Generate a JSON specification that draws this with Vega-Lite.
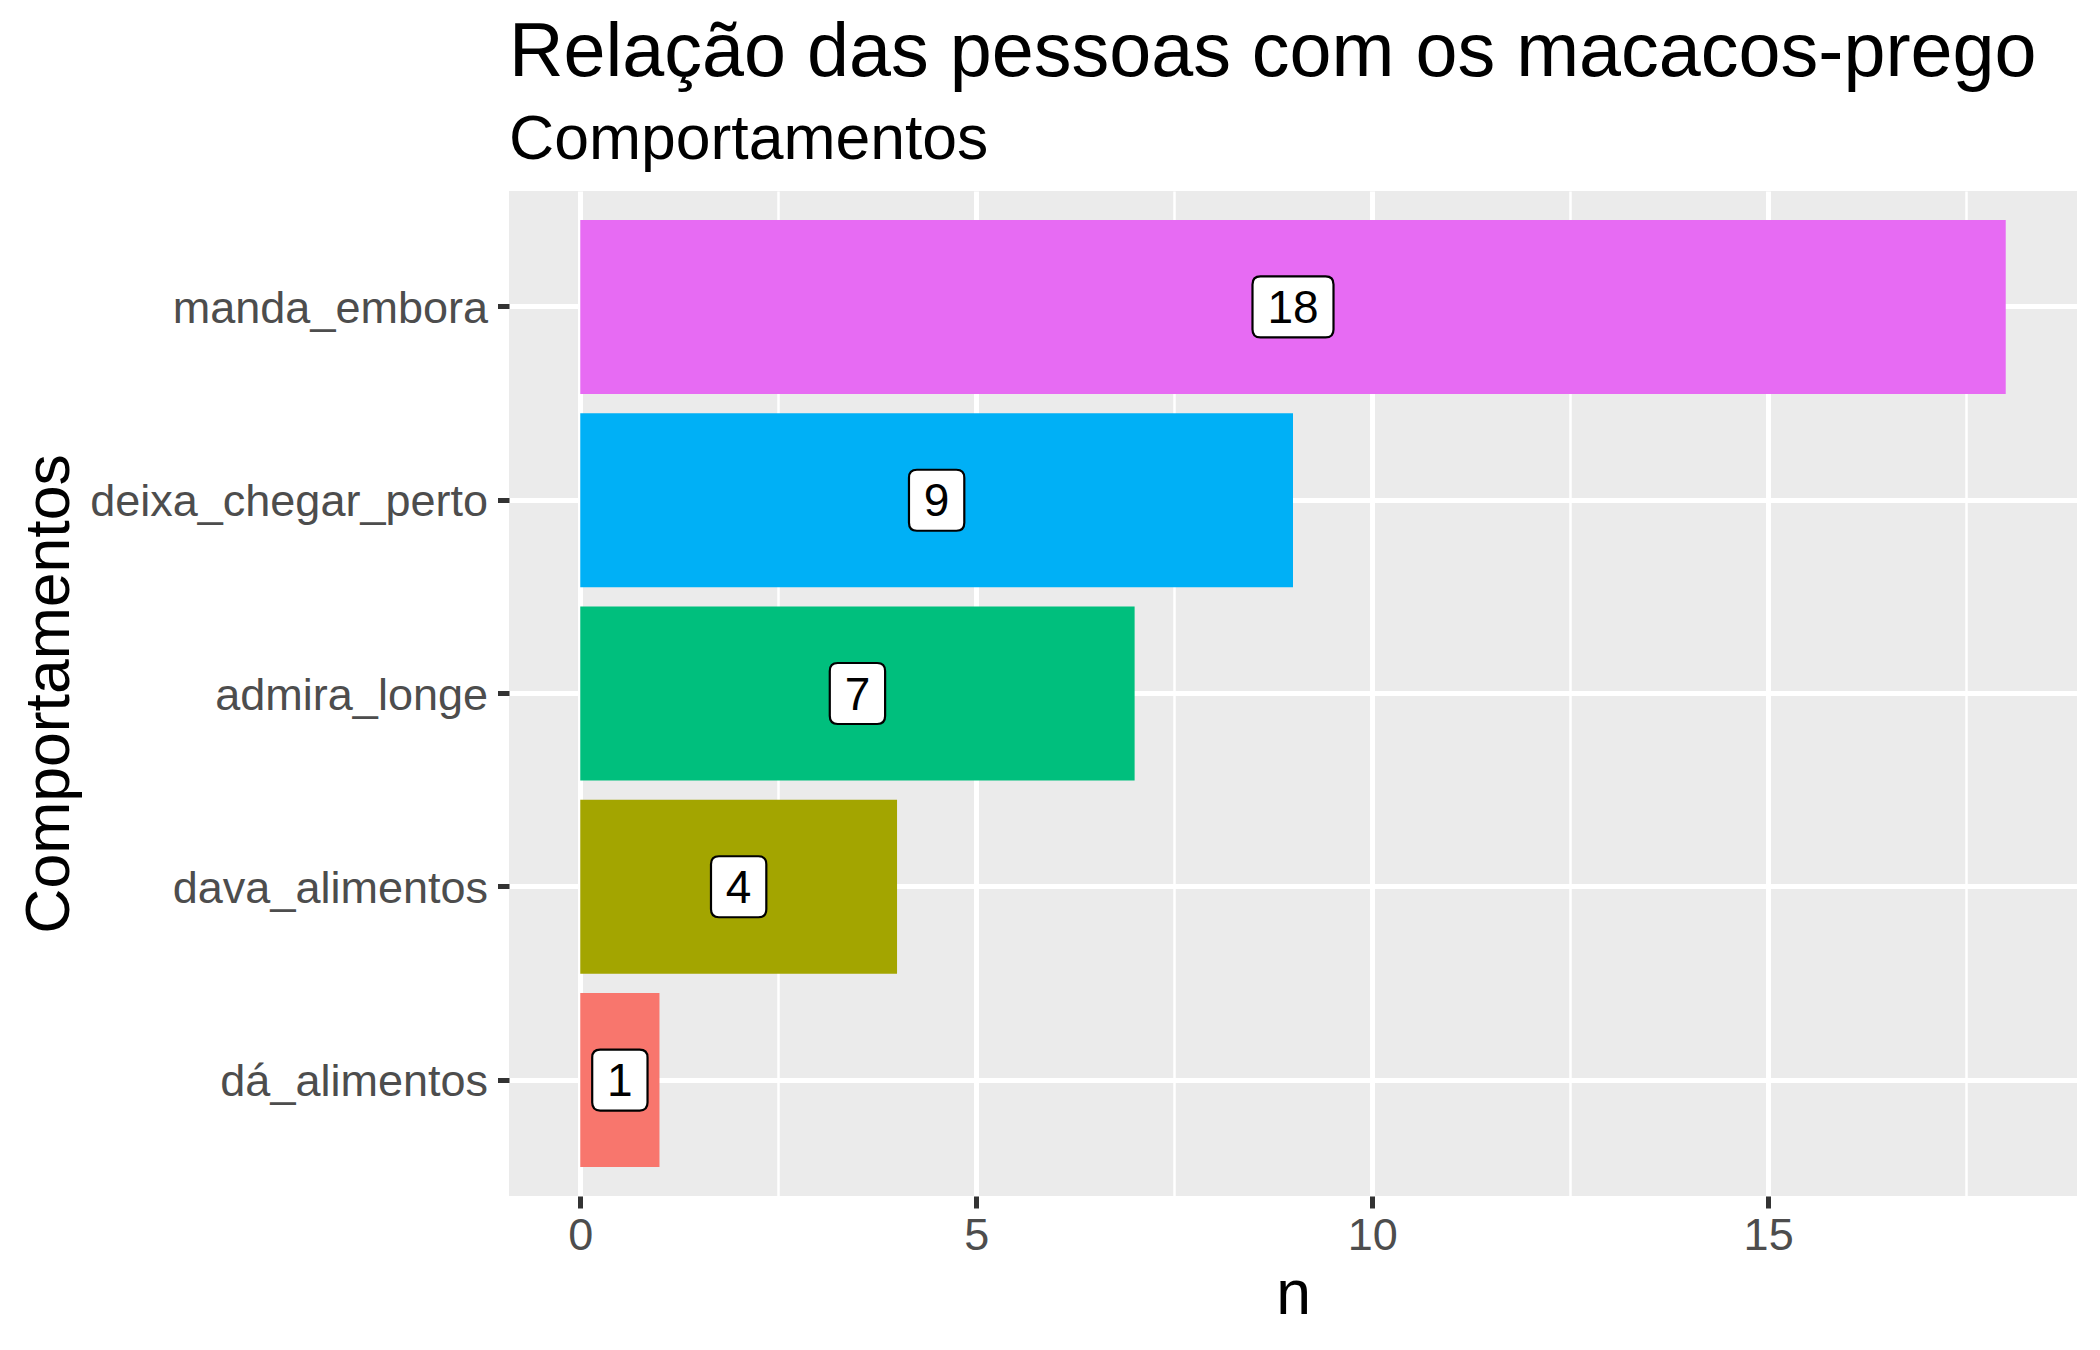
{
  "$schema": "https://vega.github.io/schema/vega-lite/v6.json",
  "autosize": {"type": "none"},
  "padding": {"left": 509, "top": 191, "right": 23, "bottom": 153},
  "width": 1568,
  "height": 1005,
  "background": "white",
  "config": {
    "font": "Liberation Sans",
    "view": {"fill": "#EBEBEB", "stroke": null},
    "axis": {"domain": false}
  },
  "title": {
    "text": "Relação das pessoas com os macacos-prego",
    "subtitle": "Comportamentos",
    "anchor": "start",
    "frame": "group",
    "font": "Liberation Sans",
    "fontSize": 75.5,
    "fontWeight": "normal",
    "color": "#000000",
    "subtitleFont": "Liberation Sans",
    "subtitleFontSize": 62.5,
    "subtitleColor": "#000000",
    "subtitlePadding": 18,
    "offset": 20,
    "limit": 0
  },
  "data": {
    "values": [
      {"comportamento": "dá_alimentos", "n": 1},
      {"comportamento": "dava_alimentos", "n": 4},
      {"comportamento": "admira_longe", "n": 7},
      {"comportamento": "deixa_chegar_perto", "n": 9},
      {"comportamento": "manda_embora", "n": 18}
    ]
  },
  "transform": [{"calculate": "datum.n / 2", "as": "mid"}],
  "encoding": {
    "y": {
      "field": "comportamento",
      "type": "nominal",
      "sort": ["manda_embora", "deixa_chegar_perto", "admira_longe", "dava_alimentos", "dá_alimentos"],
      "scale": {"paddingInner": 0.1, "paddingOuter": 0.15},
      "axis": {
        "title": "Comportamentos",
        "titleFont": "Liberation Sans",
        "titleFontSize": 62.5,
        "titleFontWeight": "normal",
        "titleColor": "#000000",
        "titleX": -441,
        "titleY": 502.5,
        "titleAngle": 270,
        "titleAlign": "center",
        "titleBaseline": "alphabetic",
        "titleLimit": 0,
        "labelFont": "Liberation Sans",
        "labelFontSize": 45,
        "labelColor": "#4D4D4D",
        "labelPadding": 10,
        "labelLimit": 0,
        "labelBaseline": "middle",
        "labelOffset": 2,
        "tickSize": 11.5,
        "tickWidth": 5,
        "tickColor": "#333333",
        "bandPosition": 0.5,
        "grid": true,
        "gridColor": "#FFFFFF",
        "gridWidth": 5
      }
    }
  },
  "layer": [
    {
      "mark": {"type": "bar"},
      "encoding": {
        "x": {
          "field": "n",
          "type": "quantitative",
          "scale": {"domain": [-0.9, 18.9], "nice": false, "zero": false},
          "axis": {
            "title": "n",
            "values": [0, 5, 10, 15],
            "titleFont": "Liberation Sans",
            "titleFontSize": 62.5,
            "titleFontWeight": "normal",
            "titleColor": "#000000",
            "titlePadding": 6,
            "labelFont": "Liberation Sans",
            "labelFontSize": 45,
            "labelColor": "#4D4D4D",
            "labelPadding": 5.5,
            "tickSize": 12,
            "tickWidth": 5,
            "tickColor": "#333333",
            "grid": true,
            "gridColor": "#FFFFFF",
            "gridWidth": 5
          }
        },
        "x2": {"datum": 0},
        "color": {
          "field": "comportamento",
          "type": "nominal",
          "scale": {
            "domain": ["dá_alimentos", "dava_alimentos", "admira_longe", "deixa_chegar_perto", "manda_embora"],
            "range": ["#F8766D", "#A3A500", "#00BF7D", "#00B0F6", "#E76BF3"]
          },
          "legend": null
        }
      }
    },
    {
      "transform": [{"filter": "datum.n >= 10"}],
      "mark": {
        "type": "point",
        "shape": "M -1.068 -1 L 1.068 -1 Q 1.328 -1 1.328 -0.74 L 1.328 0.74 Q 1.328 1 1.068 1 L -1.068 1 Q -1.328 1 -1.328 0.74 L -1.328 -0.74 Q -1.328 -1 -1.068 -1 Z",
        "size": 3721,
        "filled": true,
        "fill": "#FFFFFF",
        "stroke": "#000000",
        "strokeWidth": 2.2,
        "opacity": 1
      },
      "encoding": {
        "x": {
          "field": "mid",
          "type": "quantitative",
          "scale": {"domain": [-0.9, 18.9], "nice": false, "zero": false},
          "axis": {
            "orient": "top",
            "values": [2.5, 7.5, 12.5, 17.5],
            "title": null,
            "labels": false,
            "ticks": false,
            "domain": false,
            "grid": true,
            "gridColor": "#FFFFFF",
            "gridWidth": 2.5
          }
        }
      }
    },
    {
      "transform": [{"filter": "datum.n < 10"}],
      "mark": {
        "type": "point",
        "shape": "M -0.647 -1 L 0.647 -1 Q 0.907 -1 0.907 -0.74 L 0.907 0.74 Q 0.907 1 0.647 1 L -0.647 1 Q -0.907 1 -0.907 0.74 L -0.907 -0.74 Q -0.907 -1 -0.647 -1 Z",
        "size": 3721,
        "filled": true,
        "fill": "#FFFFFF",
        "stroke": "#000000",
        "strokeWidth": 2.2,
        "opacity": 1
      },
      "encoding": {
        "x": {
          "field": "mid",
          "type": "quantitative",
          "scale": {"domain": [-0.9, 18.9], "nice": false, "zero": false},
          "axis": null
        }
      }
    },
    {
      "mark": {
        "type": "text",
        "font": "Liberation Sans",
        "fontSize": 46,
        "color": "#000000",
        "baseline": "middle",
        "align": "center",
        "dy": 2
      },
      "encoding": {
        "x": {
          "field": "mid",
          "type": "quantitative",
          "scale": {"domain": [-0.9, 18.9], "nice": false, "zero": false},
          "axis": null
        },
        "text": {"field": "n", "type": "quantitative"}
      }
    }
  ],
  "resolve": {"axis": {"x": "independent"}}
}
